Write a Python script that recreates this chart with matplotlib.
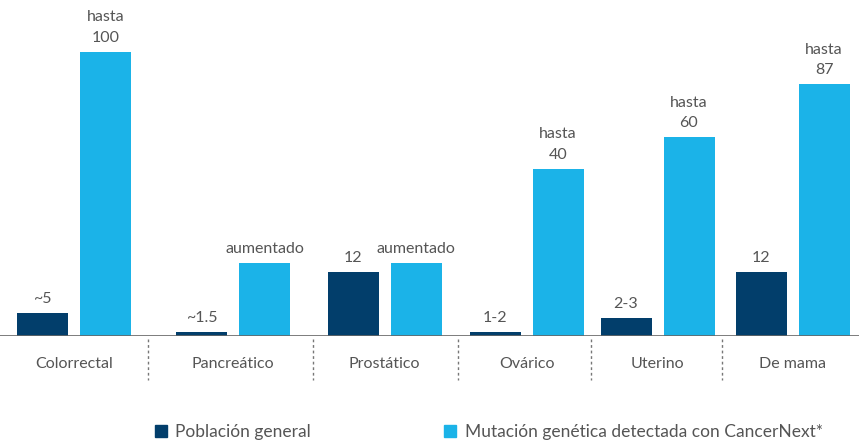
import matplotlib.pyplot as plt
from matplotlib.patches import Patch

categories = ["Colorrectal", "Pancreático", "Prostático", "Ovárico", "Uterino", "De mama"]
general = [8, 1.5, 22.5, 1.5, 6.3, 22.5]
mutation = [100, 25.7, 25.7, 58.8, 70, 88.7]
general_labels = ["~5", "~1.5", "12", "1-2", "2-3", "12"]
mutation_labels = ["hasta\n100", "aumentado", "aumentado", "hasta\n40", "hasta\n60", "hasta\n87"]

# layout (pixel-like units across the figure width)
group_x = [74, 233, 384.5, 526.5, 657.5, 792.5]
sep_x = [148, 313, 458, 591, 722]
offset = 31.5
width = 51

dark = "#023e6b"
light = "#1bb3e8"
txt = "#555555"

plt.rcParams["font.family"] = ["Lato", "DejaVu Sans"]

fig = plt.figure(figsize=(8.59, 4.41), dpi=100)
ax = fig.add_axes([0, (441 - 336) / 441, 1, 336 / 441])
ax.set_xlim(0, 859)
ax.set_ylim(0, 336 / 2.84)

xd = [x - offset for x in group_x]
xl = [x + offset for x in group_x]
b1 = ax.bar(xd, general, width=width, color=dark)
b2 = ax.bar(xl, mutation, width=width, color=light)

for bar, lab in zip(b1, general_labels):
    ax.annotate(lab, (bar.get_x() + bar.get_width() / 2, bar.get_height()),
                xytext=(0, 5), textcoords="offset points", ha="center", va="bottom",
                fontsize=11.5, color=txt)
for bar, lab in zip(b2, mutation_labels):
    ax.annotate(lab, (bar.get_x() + bar.get_width() / 2, bar.get_height()),
                xytext=(0, 5), textcoords="offset points", ha="center", va="bottom",
                fontsize=11.5, color=txt, linespacing=1.6)

ax.axhline(0, color="#666666", lw=1.2)
for spine in ax.spines.values():
    spine.set_visible(False)
ax.set_xticks([])
ax.set_yticks([])

# category labels and dotted separators below the baseline
for x, c in zip(group_x, categories):
    ax.text(x, -10, c, ha="center", va="center", fontsize=11.5, color=txt, clip_on=False)
for x in sep_x:
    ax.plot([x, x], [-1, -15.5], ls=(0, (2, 2)), color="#777777", lw=1, clip_on=False)

handles = [Patch(color=dark), Patch(color=light)]
fig.legend(handles, ["Población general", "Mutación genética detectada con CancerNext*"],
           loc="center", bbox_to_anchor=(0.569, 1 - 432 / 441), ncol=2, frameon=False,
           fontsize=12.5, handlelength=0.7, handleheight=0.7, handletextpad=0.5,
           columnspacing=7.65, labelcolor=txt)

fig.savefig("out.png", dpi=100)
